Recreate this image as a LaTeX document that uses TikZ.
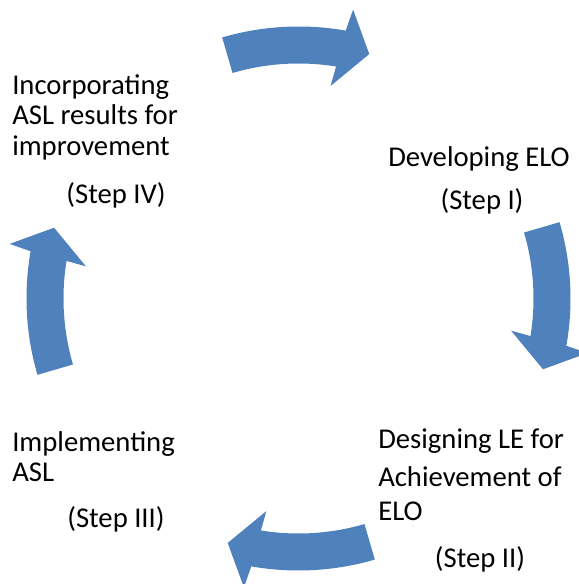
\documentclass[tikz,border=0pt]{standalone}
\usepackage{fontspec}
\setmainfont{Carlito}
\definecolor{arrowblue}{RGB}{79,129,189}
\tikzset{
  cyclearrow/.style={fill=arrowblue},
  steptext/.style={font=\fontsize{21.5}{22.9}\selectfont, inner sep=0pt, align=left}
}
\begin{document}
\begin{tikzpicture}[x=0.75pt, y=0.75pt]
\useasboundingbox (-298.5,298.5) rectangle (279.5,-285.5);
% four curved arrows round the cycle
\foreach \a in {0,90,180,270}
  \fill[cyclearrow] (106.3-\a:272) arc[start angle=106.3-\a, end angle=80-\a, radius=272]
    -- (79.3-\a:294) -- (73.85-\a:254.5) -- (81.4-\a:215) -- (80.8-\a:235)
    arc[start angle=80.8-\a, end angle=106.3-\a, radius=235] -- cycle;

\node [steptext, anchor=base west] (develop) at (89.5,131.8) {Developing ELO};
\node [steptext, anchor=base] (stepone) at (183.5,88.5) {(Step I)};

\node [steptext, anchor=base west] (designing) at (79.5,-221.5) {Designing LE for\\[5.9pt] Achievement of\\[2.1pt] ELO};
\node [steptext, anchor=base] (steptwo) at (181.5,-268.8) {(Step II)};

\node [steptext, anchor=base west] (implement) at (-286.5,-183.2) {Implementing\\ ASL};
\node [steptext, anchor=base] (stepthree) at (-182.5,-229) {(Step III)};

\node [steptext, anchor=base west] (incorp) at (-286.5,143) {Incorporating\\ ASL results for\\ improvement};
\node [steptext, anchor=base] (stepfour) at (-182.5,95.2) {(Step IV)};
\end{tikzpicture}
\end{document}
